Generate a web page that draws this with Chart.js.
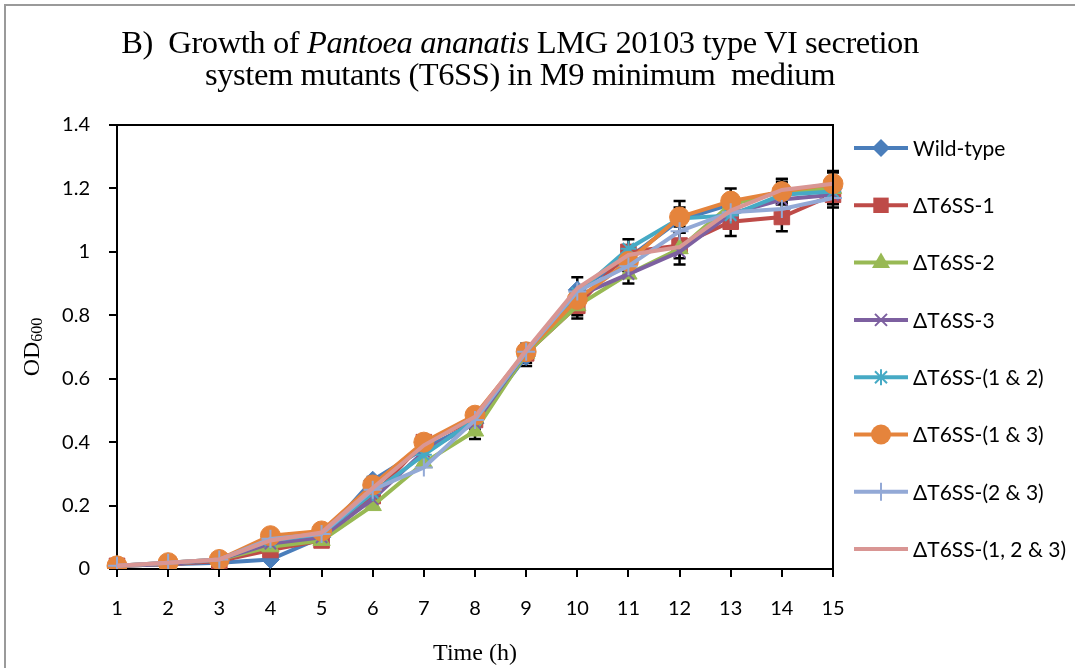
<!DOCTYPE html>
<html>
<head>
<meta charset="utf-8">
<script src="https://cdn.jsdelivr.net/npm/chart.js@4"></script>
<style>
  html, body { margin: 0; padding: 0; background: #fff; overflow: hidden; }
  #wrap { position: relative; width: 1075px; height: 668px; }
  #frame { position: absolute; left: 4px; top: 4px; width: 1200px; height: 800px;
           border: 2px solid #9a9a9a; box-sizing: border-box; pointer-events: none; }
  #title { position: absolute; left: 0; width: 1040px; top: 26px; text-align: center;
           font-family: "Liberation Serif", "DejaVu Serif", serif; font-size: 32.5px;
           line-height: 32px; color: #000; letter-spacing: -0.4px; }
  #ytitle { position: absolute; left: 32px; top: 347px; transform: translate(-50%, -50%) rotate(-90deg);
            font-family: "Liberation Serif", serif; font-size: 24px; white-space: nowrap; color: #000; }
  #ytitle sub { font-size: 16px; vertical-align: -3px; }
  canvas { position: absolute; left: 0; top: 0; }
</style>
</head>
<body>
<div id="wrap">
  <canvas id="chart" width="1075" height="668"></canvas>
  <div id="title">B)&nbsp; Growth of <i>Pantoea ananatis</i> LMG 20103 type VI secretion<br>system mutants (T6SS) in M9 minimum&nbsp; medium</div>
  <div id="ytitle">OD<sub>600</sub></div>
  <div id="frame"></div>
</div>
<script>
// time points (h)
const hours = ["1", "2", "3", "4", "5", "6", "7", "8", "9", "10", "11", "12", "13", "14", "15"];
const yTicks = [0, 0.2, 0.4, 0.6, 0.8, 1, 1.2, 1.4];

// OD600 readings per strain
const wildType = [0.01, 0.015, 0.02, 0.03, 0.10, 0.28, 0.38, 0.46, 0.67, 0.88, 0.98, 1.10, 1.15, 1.19, 1.20];
const t6ss1    = [0.01, 0.015, 0.025, 0.06, 0.09, 0.23, 0.40, 0.47, 0.68, 0.83, 1.00, 1.02, 1.095, 1.11, 1.18];
const t6ss2    = [0.01, 0.015, 0.03, 0.07, 0.09, 0.20, 0.335, 0.435, 0.68, 0.83, 0.93, 1.01, 1.15, 1.19, 1.20];
const t6ss3    = [0.01, 0.015, 0.03, 0.08, 0.10, 0.22, 0.37, 0.46, 0.685, 0.86, 0.93, 1.00, 1.12, 1.165, 1.18];
const t6ss12   = [0.01, 0.02, 0.03, 0.09, 0.11, 0.24, 0.36, 0.47, 0.685, 0.87, 1.01, 1.105, 1.115, 1.18, 1.19];
const t6ss13   = [0.01, 0.02, 0.03, 0.105, 0.12, 0.265, 0.40, 0.485, 0.685, 0.85, 0.97, 1.11, 1.16, 1.19, 1.215];
const t6ss23   = [0.01, 0.02, 0.03, 0.095, 0.11, 0.25, 0.32, 0.47, 0.685, 0.875, 0.955, 1.065, 1.125, 1.135, 1.17];
const t6ss123  = [0.01, 0.02, 0.03, 0.09, 0.115, 0.255, 0.39, 0.48, 0.69, 0.885, 0.99, 1.015, 1.13, 1.195, 1.215];

// standard deviations (error bars)
const errWildType = [0, 0, 0, 0.005, 0.01, 0.01, 0.01, 0.02, 0.03, 0.04, 0.04, 0.04, 0.03, 0.04, 0.05];
const errT6ss1    = [0, 0, 0, 0.005, 0.01, 0.01, 0.01, 0.02, 0.03, 0.04, 0.04, 0.06, 0.045, 0.045, 0.04];
const errT6ss2    = [0, 0, 0, 0.005, 0.01, 0.01, 0.01, 0.025, 0.02, 0.03, 0.03, 0.03, 0.03, 0.03, 0.03];
const errT6ss13   = [0, 0, 0, 0.005, 0.01, 0.01, 0.01, 0.01, 0.02, 0.03, 0.03, 0.05, 0.04, 0.04, 0.04];

const seriesNames = ["Wild-type", "ΔT6SS-1", "ΔT6SS-2", "ΔT6SS-3", "ΔT6SS-(1 & 2)", "ΔT6SS-(1 & 3)", "ΔT6SS-(2 & 3)", "ΔT6SS-(1, 2 & 3)"];
const seriesData = [wildType, t6ss1, t6ss2, t6ss3, t6ss12, t6ss13, t6ss23, t6ss123];
const seriesErr = [errWildType, errT6ss1, errT6ss2, null, null, errT6ss13, null, null];
const colors = ["#4a7ebb", "#be4b48", "#98b954", "#7d60a0", "#46aac5", "#e5843c", "#93a9d6", "#d99694"];
const markers = ["rectRot", "rect", "triangle", "crossRot", "star", "circle", "cross", "line"];
const radii = [9, 11, 10, 8, 8, 10, 9, 0];

const FONT = "Lato, 'Open Sans', sans-serif";

const datasets = seriesNames.map((name, i) => ({
  label: name,
  data: seriesData[i],
  errors: seriesErr[i],
  borderColor: colors[i],
  backgroundColor: colors[i],
  pointBackgroundColor: colors[i],
  pointBorderColor: colors[i],
  pointStyle: markers[i],
  pointRadius: radii[i],
  pointBorderWidth: (markers[i] === "crossRot" || markers[i] === "star" || markers[i] === "cross") ? 2 : 1,
  borderWidth: 4,
  tension: 0,
  order: seriesNames.length - i,
}));

// black error bars, drawn under the markers
const errorBars = {
  id: "errorBars",
  beforeDatasetsDraw(chart) {
    const ctx = chart.ctx;
    const xs = chart.scales.x, ys = chart.scales.y;
    ctx.save();
    ctx.strokeStyle = "#000";
    ctx.lineWidth = 2.5;
    chart.data.datasets.forEach((ds) => {
      if (!ds.errors) return;
      ds.data.forEach((v, j) => {
        const e = ds.errors[j];
        if (!e) return;
        const x = xs.getPixelForValue(j);
        const y1 = ys.getPixelForValue(v + e), y2 = ys.getPixelForValue(v - e);
        ctx.beginPath();
        ctx.moveTo(x, y1); ctx.lineTo(x, y2);
        ctx.moveTo(x - 6, y1); ctx.lineTo(x + 6, y1);
        ctx.moveTo(x - 6, y2); ctx.lineTo(x + 6, y2);
        ctx.stroke();
      });
    });
    ctx.restore();
  },
};

// top and right edges of the plot area
const plotFrame = {
  id: "plotFrame",
  afterDraw(chart) {
    const { ctx, chartArea: a } = chart;
    ctx.save();
    ctx.strokeStyle = "#000";
    ctx.lineWidth = 2;
    ctx.beginPath();
    ctx.moveTo(a.left - 8, a.top);
    ctx.lineTo(a.right, a.top);
    ctx.lineTo(a.right, a.bottom);
    ctx.stroke();
    ctx.restore();
  },
};

function drawMarker(ctx, style, x, y, r, color) {
  ctx.save();
  ctx.fillStyle = color;
  ctx.strokeStyle = color;
  ctx.lineWidth = 2;
  ctx.beginPath();
  if (style === "rectRot") {
    ctx.moveTo(x, y - r); ctx.lineTo(x + r, y); ctx.lineTo(x, y + r); ctx.lineTo(x - r, y); ctx.closePath(); ctx.fill();
  } else if (style === "rect") {
    ctx.rect(x - r * 0.7, y - r * 0.7, r * 1.4, r * 1.4); ctx.fill();
  } else if (style === "triangle") {
    ctx.moveTo(x, y - r); ctx.lineTo(x + r * 0.9, y + r * 0.55); ctx.lineTo(x - r * 0.9, y + r * 0.55); ctx.closePath(); ctx.fill();
  } else if (style === "circle") {
    ctx.arc(x, y, r, 0, Math.PI * 2); ctx.fill();
  } else if (style === "crossRot" || style === "star" || style === "cross") {
    const d = r * 0.75;
    if (style !== "cross") { ctx.moveTo(x - d, y - d); ctx.lineTo(x + d, y + d); ctx.moveTo(x + d, y - d); ctx.lineTo(x - d, y + d); }
    if (style !== "crossRot") { ctx.moveTo(x, y - r); ctx.lineTo(x, y + r); ctx.moveTo(x - r, y); ctx.lineTo(x + r, y); }
    ctx.stroke();
  }
  ctx.restore();
}

// legend on the right: line with marker, then label
const sideLegend = {
  id: "sideLegend",
  afterDraw(chart) {
    const { ctx, chartArea: a } = chart;
    const x0 = a.right + 21, x1 = a.right + 75, tx = a.right + 80;
    ctx.save();
    ctx.font = "21px " + FONT;
    ctx.textBaseline = "middle";
    chart.data.datasets.forEach((ds, i) => {
      const y = a.top + 23 + i * 57.3;
      ctx.strokeStyle = ds.borderColor;
      ctx.lineWidth = 4;
      ctx.beginPath(); ctx.moveTo(x0, y); ctx.lineTo(x1, y); ctx.stroke();
      drawMarker(ctx, ds.pointStyle, (x0 + x1) / 2, y, ds.pointRadius, ds.borderColor);
      ctx.fillStyle = "#000";
      ctx.fillText(ds.label, tx, y + 1);
    });
    ctx.restore();
  },
};

new Chart(document.getElementById("chart"), {
  type: "line",
  data: { labels: hours, datasets },
  plugins: [errorBars, plotFrame, sideLegend],
  options: {
    responsive: false,
    animation: false,
    layout: { padding: { left: 0, top: 125, right: 242, bottom: 0 } },
    plugins: { legend: { display: false }, title: { display: false }, tooltip: { enabled: false } },
    scales: {
      x: {
        type: "category",
        offset: false,
        afterFit(scale) { scale.height = 99; },
        border: { display: true, color: "#000", width: 2 },
        grid: { display: true, drawOnChartArea: false, drawTicks: true, tickLength: 8, color: "#000", lineWidth: 2 },
        ticks: { color: "#000", padding: 20, font: { family: FONT, size: 20 }, maxRotation: 0, autoSkip: false },
        title: {
          display: true, text: "Time (h)", color: "#000",
          font: { family: "'Liberation Serif', serif", size: 24 },
          padding: { top: 0, bottom: 0 },
        },
      },
      y: {
        min: 0,
        max: 1.4,
        afterFit(scale) { scale.width = 117; },
        afterBuildTicks(scale) { scale.ticks = yTicks.map((v) => ({ value: v })); },
        border: { display: true, color: "#000", width: 2 },
        grid: { display: true, drawOnChartArea: false, drawTicks: true, tickLength: 8, color: "#000", lineWidth: 2 },
        ticks: {
          color: "#000", padding: 19, font: { family: FONT, size: 20 },
          callback: (v) => String(Number(v.toFixed(1))),
        },
      },
    },
  },
});
</script>
</body>
</html>
